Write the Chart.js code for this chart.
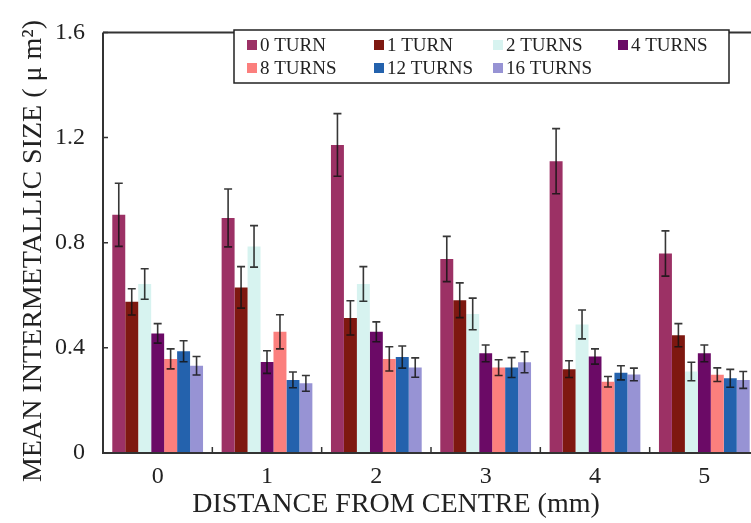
<!DOCTYPE html>
<html>
<head>
<meta charset="utf-8">
<script src="https://cdn.jsdelivr.net/npm/chart.js@4.4.1/dist/chart.umd.min.js"></script>
<style>
  html, body { margin: 0; padding: 0; background: #fff; overflow: hidden; }
  #wrap { position: relative; width: 760px; height: 523px; }
</style>
</head>
<body>
<div id="wrap"><canvas id="sizeChart"></canvas></div>
<script>
// distance from centre (mm)
const categories = ['0', '1', '2', '3', '4', '5'];
const seriesLabels = ['0 TURN', '1 TURN', '2 TURNS', '4 TURNS', '8 TURNS', '12 TURNS', '16 TURNS'];
const seriesColors = ['#9C3165', '#7E1810', '#D7F3F0', '#6B0A66', '#FB7F7D', '#2462AD', '#9793D4'];

// mean intermetallic size (um^2) per number of turns
const turn0 = [0.906, 0.894, 1.172, 0.738, 1.110, 0.759];
const turn1 = [0.575, 0.630, 0.514, 0.581, 0.319, 0.448];
const turn2 = [0.643, 0.786, 0.643, 0.529, 0.489, 0.310];
const turn4 = [0.455, 0.346, 0.461, 0.379, 0.367, 0.379];
const turn8 = [0.358, 0.461, 0.358, 0.325, 0.271, 0.298];
const turn12 = [0.387, 0.278, 0.365, 0.325, 0.305, 0.284];
const turn16 = [0.332, 0.265, 0.325, 0.345, 0.299, 0.278];

// error bar half-heights
const turn0Err = [0.120, 0.110, 0.119, 0.086, 0.124, 0.086];
const turn1Err = [0.050, 0.079, 0.065, 0.066, 0.032, 0.044];
const turn2Err = [0.058, 0.079, 0.066, 0.060, 0.055, 0.035];
const turn4Err = [0.037, 0.043, 0.038, 0.032, 0.029, 0.032];
const turn8Err = [0.038, 0.065, 0.046, 0.030, 0.020, 0.026];
const turn12Err = [0.040, 0.030, 0.042, 0.038, 0.027, 0.034];
const turn16Err = [0.035, 0.030, 0.037, 0.040, 0.024, 0.032];

const yTicks = [0, 0.4, 0.8, 1.2, 1.6];

const seriesValues = [turn0, turn1, turn2, turn4, turn8, turn12, turn16];
const seriesErrors = [turn0Err, turn1Err, turn2Err, turn4Err, turn8Err, turn12Err, turn16Err];

const SERIF = "'Liberation Serif', 'Times New Roman', serif";
const AXIS_COLOR = '#333';

// error bars, ticks, frame, legend and axis titles
const decorPlugin = {
    id: 'decor',
    afterDatasetsDraw(chart) {
        const ctx = chart.ctx;
        const y = chart.scales.y;
        ctx.save();
        ctx.strokeStyle = 'rgba(20,20,20,0.85)';
        ctx.lineWidth = 1.6;
        chart.data.datasets.forEach((ds, i) => {
            const meta = chart.getDatasetMeta(i);
            meta.data.forEach((bar, j) => {
                const v = ds.data[j];
                const e = ds.errors[j];
                const top = y.getPixelForValue(v + e);
                const bot = y.getPixelForValue(v - e);
                const cap = 4;
                ctx.beginPath();
                ctx.moveTo(bar.x, top);
                ctx.lineTo(bar.x, bot);
                ctx.moveTo(bar.x - cap, top);
                ctx.lineTo(bar.x + cap, top);
                ctx.moveTo(bar.x - cap, bot);
                ctx.lineTo(bar.x + cap, bot);
                ctx.stroke();
            });
        });
        ctx.restore();
    },
    afterDraw(chart) {
        const ctx = chart.ctx;
        const area = chart.chartArea;
        const x = chart.scales.x;
        const y = chart.scales.y;
        ctx.save();

        // frame: left, bottom, top
        ctx.strokeStyle = AXIS_COLOR;
        ctx.lineWidth = 2;
        ctx.beginPath();
        ctx.moveTo(area.left, area.top);
        ctx.lineTo(area.left, area.bottom);
        ctx.lineTo(area.right, area.bottom);
        ctx.moveTo(area.left, area.top);
        ctx.lineTo(area.right, area.top);
        ctx.stroke();

        // inward ticks
        ctx.lineWidth = 1.5;
        ctx.beginPath();
        yTicks.forEach(t => {
            const py = y.getPixelForValue(t);
            ctx.moveTo(area.left, py);
            ctx.lineTo(area.left + 5, py);
        });
        for (let i = 1; i < categories.length; i++) {
            const px = (x.getPixelForValue(i - 1) + x.getPixelForValue(i)) / 2;
            ctx.moveTo(px, area.bottom);
            ctx.lineTo(px, area.bottom - 6);
        }
        ctx.stroke();

        // legend
        const lx = 234, ly = 30, lw = 495, lh = 53;
        ctx.fillStyle = '#fff';
        ctx.fillRect(lx, ly, lw, lh);
        ctx.strokeStyle = '#222';
        ctx.lineWidth = 1.5;
        ctx.strokeRect(lx, ly, lw, lh);
        const cols = [247, 374, 493, 618];
        const rows = [45, 68];
        ctx.font = '19px ' + SERIF;
        ctx.textBaseline = 'middle';
        ctx.textAlign = 'left';
        chart.data.datasets.forEach((ds, i) => {
            const cx = cols[i % 4];
            const cy = rows[Math.floor(i / 4)];
            ctx.fillStyle = ds.backgroundColor;
            ctx.fillRect(cx, cy - 5, 10, 10);
            ctx.fillStyle = '#222';
            ctx.fillText(ds.label, cx + 13, cy + 1);
        });

        // axis titles
        ctx.fillStyle = '#222';
        ctx.font = '28px ' + SERIF;
        ctx.textAlign = 'center';
        ctx.textBaseline = 'middle';
        ctx.fillText('DISTANCE FROM CENTRE (mm)', 396, 505);
        ctx.translate(34, 251);
        ctx.rotate(-Math.PI / 2);
        ctx.fillText('MEAN INTERMETALLIC SIZE ( \u03BC m\u00B2)', 0, 0);
        ctx.restore();
    }
};

const datasets = seriesLabels.map((label, i) => ({
    label: label,
    data: seriesValues[i],
    errors: seriesErrors[i],
    backgroundColor: seriesColors[i],
    borderWidth: 0,
    barPercentage: 1.0,
    categoryPercentage: 0.83
}));

new Chart(document.getElementById('sizeChart'), {
    type: 'bar',
    data: { labels: categories, datasets: datasets },
    plugins: [decorPlugin],
    options: {
        responsive: true,
        maintainAspectRatio: false,
        animation: false,
        layout: { padding: { top: 18, right: 1, left: 0, bottom: 0 } },
        plugins: {
            legend: { display: false },
            tooltip: { enabled: false }
        },
        scales: {
            x: {
                grid: { display: false, drawTicks: false },
                border: { display: false },
                ticks: {
                    padding: 9,
                    color: '#222',
                    font: { family: SERIF, size: 24 }
                },
                afterFit(scale) { scale.height = 70; }
            },
            y: {
                min: 0,
                max: 1.6,
                grid: { display: false, drawTicks: false },
                border: { display: false },
                ticks: {
                    stepSize: 0.4,
                    padding: 18,
                    color: '#222',
                    font: { family: SERIF, size: 24 },
                    callback: v => (v === 0 ? '0' : v.toFixed(1))
                },
                afterFit(scale) { scale.width = 103; }
            }
        }
    }
});
</script>
</body>
</html>
